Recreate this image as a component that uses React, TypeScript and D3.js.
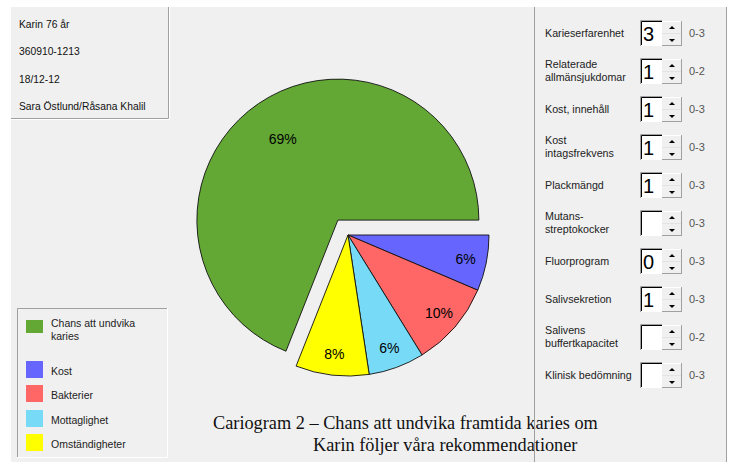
import React from 'react';
import * as d3 from 'd3';

const categories = ['Kost', 'Bakterier', 'Mottaglighet', 'Omständigheter', 'Chans att undvika karies'];
const values = [6.4, 9.8, 6.4, 8.4, 69];
const pctLabels = ['6%', '10%', '6%', '8%', '69%'];
const sliceColors = ['#6666ff', '#ff6666', '#77dbf7', '#ffff00', '#63a835'];
const legendOrder = [4, 0, 1, 2, 3];
const legendLines = [['Chans att undvika', 'karies'], ['Kost'], ['Bakterier'], ['Mottaglighet'], ['Omständigheter']];

const patientInfo = ['Karin 76 år', '360910-1213', '18/12-12', 'Sara Östlund/Råsana Khalil'];

const factorLabels = [
  ['Karieserfarenhet'], ['Relaterade', 'allmänsjukdomar'], ['Kost, innehåll'], ['Kost', 'intagsfrekvens'],
  ['Plackmängd'], ['Mutans-', 'streptokocker'], ['Fluorprogram'], ['Salivsekretion'],
  ['Salivens', 'buffertkapacitet'], ['Klinisk bedömning'],
];
const factorValues = ['3', '1', '1', '1', '1', '', '0', '1', '', ''];
const factorRanges = ['0-3', '0-2', '0-3', '0-3', '0-3', '0-3', '0-3', '0-3', '0-2', '0-3'];

const captionLines = ['Cariogram 2 – Chans att undvika framtida karies om', 'Karin följer våra rekommendationer'];

const UI = '"Liberation Sans", Arial, sans-serif';
const SERIF = '"Liberation Serif", "Times New Roman", serif';

export default function App() {
  const W = 741, H = 469;
  const cx = 348, cy = 235, R = 141;
  const explodeIdx = 4, explodeDist = 18;

  const pie = d3.pie<number>().sort(null).value(d => d)
    .startAngle(Math.PI / 2).endAngle(Math.PI / 2 + 2 * Math.PI);
  const arcs = pie(values);
  const arc = d3.arc<d3.PieArcDatum<number>>().innerRadius(0).outerRadius(R);

  const offset = (a: d3.PieArcDatum<number>, dist: number) => {
    const m = (a.startAngle + a.endAngle) / 2;
    return [Math.sin(m) * dist, -Math.cos(m) * dist];
  };

  const legendY = d3.scaleOrdinal<number, number>().domain([0, 1, 2, 3, 4]).range([326.5, 369.5, 393.5, 418.5, 442.5]);

  const rowY = d3.scaleLinear().domain([0, 1]).range([20, 58]);
  const boxH = 26;

  return (
    <div style={{ position: 'fixed', left: 0, top: 0 }}>
      <svg width={W} height={H} style={{ display: 'block' }}>
        <rect x={0} y={0} width={W} height={H} fill="#ffffff" />
        <rect x={11} y={7} width={716} height={455} fill="#f0f0f0" />

        {/* patient info box */}
        <line x1={168.5} y1={7} x2={168.5} y2={118.5} stroke="#a0a0a0" />
        <line x1={11} y1={118.5} x2={168.5} y2={118.5} stroke="#a0a0a0" />
        <line x1={169.5} y1={7} x2={169.5} y2={119.5} stroke="#ffffff" />
        <line x1={11} y1={119.5} x2={169.5} y2={119.5} stroke="#ffffff" />
        {patientInfo.map((t, i) => (
          <text key={t} x={19} y={[24, 51, 79, 106][i]} dominantBaseline="central" fontFamily={UI} fontSize={10.3} fill="#111">{t}</text>
        ))}

        {/* pie */}
        {arcs.map((a, i) => {
          const [dx, dy] = i === explodeIdx ? offset(a, explodeDist) : [0, 0];
          return (
            <g key={categories[i]} transform={`translate(${cx + dx},${cy + dy})`}>
              <path d={arc(a) || ''} fill={sliceColors[i]} stroke="#111" strokeWidth={0.9} strokeLinejoin="round" />
            </g>
          );
        })}
        {arcs.map((a, i) => {
          const [dx, dy] = i === explodeIdx ? offset(a, explodeDist) : [0, 0];
          const lr = i === explodeIdx ? 98 : 120;
          const la = d3.arc<d3.PieArcDatum<number>>().innerRadius(lr).outerRadius(lr);
          const [lx, ly] = la.centroid(a);
          return (
            <text key={'l' + i} x={cx + dx + lx} y={cy + dy + ly} textAnchor="middle" dominantBaseline="central"
              fontFamily={UI} fontSize={14} fill="#000">{pctLabels[i]}</text>
          );
        })}

        {/* legend */}
        <line x1={17.5} y1={308.5} x2={167} y2={308.5} stroke="#a0a0a0" />
        <line x1={17.5} y1={308.5} x2={17.5} y2={457} stroke="#a0a0a0" />
        <line x1={167.5} y1={308} x2={167.5} y2={457.5} stroke="#ffffff" />
        <line x1={17} y1={457.5} x2={167.5} y2={457.5} stroke="#ffffff" />
        {legendOrder.map((ci, j) => {
          const yc = legendY(j);
          const h = j === 0 ? 13 : 17;
          const lines = legendLines[j];
          return (
            <g key={'lg' + j}>
              <rect x={26} y={yc - h / 2} width={17} height={h} fill={sliceColors[ci]} />
              {lines.map((t, k) => (
                <text key={t} x={51} y={lines.length > 1 ? 323 + k * 13 : yc + 1.5} dominantBaseline="central"
                  fontFamily={UI} fontSize={10.5} fill="#222">{t}</text>
              ))}
            </g>
          );
        })}

        {/* caption */}
        <text x={213} y={429} fontFamily={SERIF} fontSize={18.3} fill="#111">{captionLines[0]}</text>
        <text x={313} y={451} fontFamily={SERIF} fontSize={18.3} fill="#111">{captionLines[1]}</text>

        {/* right panel */}
        <line x1={534.5} y1={7} x2={534.5} y2={462} stroke="#a0a0a0" />
        <line x1={726.5} y1={7} x2={726.5} y2={462} stroke="#a0a0a0" />
        {factorLabels.map((lines, i) => {
          const top = rowY(i);
          const c = top + boxH / 2;
          return (
            <g key={'f' + i}>
              {lines.map((t, k) => (
                <text key={t} x={545} y={lines.length > 1 ? c - 7 + k * 13 : c} dominantBaseline="central"
                  fontFamily={UI} fontSize={10.7} fill="#222">{t}</text>
              ))}
              <rect x={640} y={top} width={22} height={boxH} fill="#ffffff" />
              <line x1={640.5} y1={top + 0.5} x2={662} y2={top + 0.5} stroke="#a0a0a0" />
              <line x1={640.5} y1={top + 0.5} x2={640.5} y2={top + boxH} stroke="#a0a0a0" />
              <line x1={641.5} y1={top + 1.5} x2={662} y2={top + 1.5} stroke="#000" />
              <line x1={641.5} y1={top + 1.5} x2={641.5} y2={top + boxH - 1} stroke="#000" />
              <rect x={662} y={top + 1} width={20} height={boxH - 1} fill="#f0f0f0" />
              <line x1={662} y1={top + 1.5} x2={681.5} y2={top + 1.5} stroke="#ffffff" />
              <line x1={681.5} y1={top + 1} x2={681.5} y2={top + boxH} stroke="#a0a0a0" />
              <line x1={662} y1={top + boxH - 0.5} x2={682} y2={top + boxH - 0.5} stroke="#a0a0a0" />
              <line x1={662} y1={top + boxH / 2 + 0.5} x2={681} y2={top + boxH / 2 + 0.5} stroke="#e3e3e3" />
              <path d={`M${669},${top + 9}L${675},${top + 9}L${672},${top + 6}Z`} fill="#000" />
              <path d={`M${669},${top + 19}L${675},${top + 19}L${672},${top + 22}Z`} fill="#000" />
              {factorValues[i] && (
                <text x={643} y={c + 1} dominantBaseline="central" fontFamily={UI} fontSize={20} fill="#000">{factorValues[i]}</text>
              )}
              <text x={689} y={c} dominantBaseline="central" fontFamily={UI} fontSize={11} fill="#555">{factorRanges[i]}</text>
            </g>
          );
        })}
      </svg>
    </div>
  );
}
